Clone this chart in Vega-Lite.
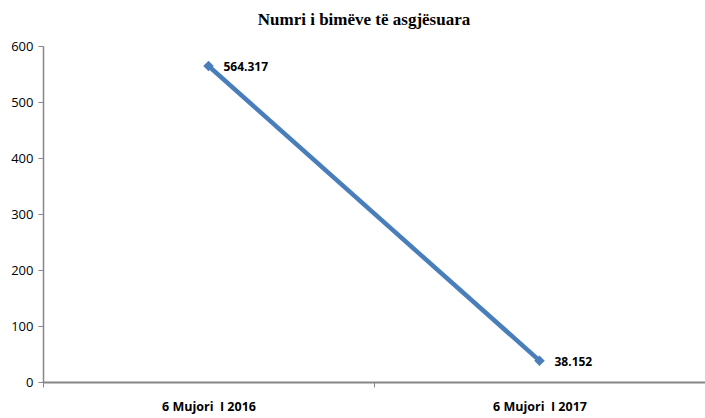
{
  "$schema": "https://vega.github.io/schema/vega-lite/v6.json",
  "autosize": {"type": "none"},
  "padding": {"left": 43, "top": 46, "right": 0, "bottom": 36},
  "width": 662,
  "height": 336,
  "background": "white",
  "title": {
    "text": "Numri i bimëve të asgjësuara",
    "font": "Liberation Serif",
    "fontSize": 17,
    "fontWeight": "bold",
    "color": "#000000",
    "anchor": "middle",
    "dx": -10,
    "offset": 11
  },
  "data": {
    "values": [
      {"period": "6 Mujori\u00a0 I 2016", "value": 564.317},
      {"period": "6 Mujori\u00a0 I 2017", "value": 38.152}
    ]
  },
  "encoding": {
    "x": {
      "field": "period",
      "type": "nominal",
      "sort": null,
      "scale": {"paddingInner": 0, "paddingOuter": 0},
      "axis": {
        "title": null,
        "labelAngle": 0,
        "labelFont": "Open Sans",
        "labelFontSize": 12.5,
        "labelFontWeight": "bold",
        "labelColor": "#000000",
        "labelPadding": 13,
        "tickBand": "extent",
        "tickSize": 5,
        "tickColor": "#868686",
        "domainColor": "#868686",
        "domainWidth": 2,
        "grid": false
      }
    },
    "y": {
      "field": "value",
      "type": "quantitative",
      "scale": {"domain": [0, 600], "nice": false},
      "axis": {
        "title": null,
        "values": [0, 100, 200, 300, 400, 500, 600],
        "labelFont": "Open Sans",
        "labelFontSize": 13,
        "labelColor": "#000000",
        "labelPadding": 5,
        "tickSize": 5,
        "tickColor": "#868686",
        "domainColor": "#868686",
        "domainWidth": 1.5,
        "grid": false
      }
    }
  },
  "layer": [
    {
      "mark": {"type": "line", "color": "#4a7ebb", "strokeWidth": 4.5}
    },
    {
      "mark": {"type": "point", "shape": "diamond", "filled": true, "color": "#4a7ebb", "size": 110, "opacity": 1}
    },
    {
      "mark": {"type": "text", "align": "left", "dx": 15, "dy": 1, "font": "Open Sans", "fontSize": 12, "fontWeight": "bold", "color": "#000000"},
      "encoding": {"text": {"field": "value", "type": "quantitative", "format": ".3f"}}
    }
  ],
  "config": {"view": {"stroke": null}}
}
